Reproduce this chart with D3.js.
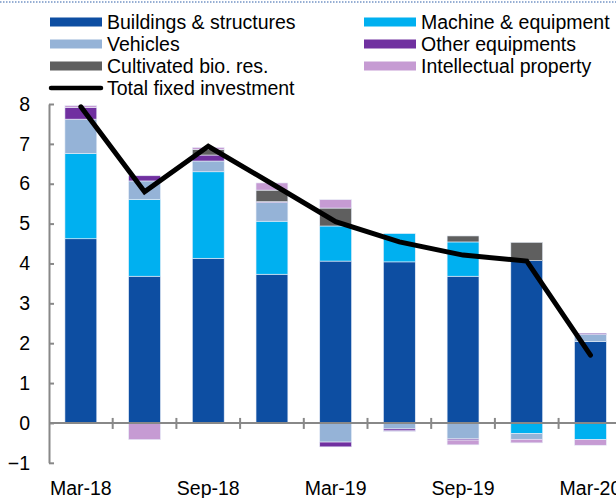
<!DOCTYPE html>
<html>
<head>
<meta charset="utf-8">
<script src="https://cdn.jsdelivr.net/npm/d3@7"></script>
<style>
  html, body { margin: 0; padding: 0; background: #fff; }
  svg { display: block; font-family: "Liberation Sans", Arial, sans-serif; }
</style>
</head>
<body>
<div class="chart-area"></div>
<script>
const svgWidth = 616
const svgHeight = 498
const fontSize = 19.5

// quarters on the x axis
const quarters = ['Mar-18', 'Jun-18', 'Sep-18', 'Dec-18', 'Mar-19', 'Jun-19', 'Sep-19', 'Dec-19', 'Mar-20']
const tickLabels = ['Mar-18', 'Sep-18', 'Mar-19', 'Sep-19', 'Mar-20']

// contributions, percentage points
const buildings    = [4.62, 3.68, 4.13, 3.73, 4.06, 4.04, 3.68, 4.07, 2.04]
const machine      = [2.14, 1.93, 2.17, 1.33, 0.88, 0.71, 0.86, -0.27, -0.42]
const vehicles     = [0.86, 0.46, 0.27, 0.47, -0.48, -0.15, -0.40, -0.14, 0.18]
const otherEquip   = [0.29, 0.13, 0.15, 0.02, -0.12, -0.05, -0.03, 0.00, 0.03]
const cultivated   = [0.00, 0.00, 0.14, 0.29, 0.45, 0.00, 0.15, 0.46, 0.00]
const intellectual = [0.05, -0.42, 0.05, 0.18, 0.21, -0.02, -0.12, -0.09, -0.14]
const totalInvestment = [7.93, 5.80, 6.94, 6.00, 5.05, 4.54, 4.21, 4.06, 1.70]

const yTicks = [-1, 0, 1, 2, 3, 4, 5, 6, 7, 8]

const SERIES = [
  { key: 'buildings', name: 'Buildings & structures', color: '#0d4ea2', values: buildings },
  { key: 'machine', name: 'Machine & equipment', color: '#00b0f0', values: machine },
  { key: 'vehicles', name: 'Vehicles', color: '#95b3d7', values: vehicles },
  { key: 'other', name: 'Other equipments', color: '#7030a0', values: otherEquip },
  { key: 'cultivated', name: 'Cultivated bio. res.', color: '#5f5f5f', values: cultivated },
  { key: 'intellectual', name: 'Intellectual property', color: '#c69bd3', values: intellectual },
]

const rows = quarters.map((q, i) => {
  const row = { quarter: q }
  SERIES.forEach(s => { row[s.key] = s.values[i] })
  return row
})

const svg = d3.select('div.chart-area')
  .append('svg')
  .attr('width', svgWidth)
  .attr('height', svgHeight)

// dotted frame edge of the text box above the chart
svg.append('line')
  .attr('x1', 0).attr('x2', svgWidth)
  .attr('y1', 2).attr('y2', 2)
  .attr('stroke', '#2f5fa8')
  .attr('stroke-width', 1)
  .attr('stroke-dasharray', '1.5,1.5')

const x = d3.scaleBand()
  .domain(quarters)
  .range([49, 622.3])
  .paddingInner(0.5)
  .paddingOuter(0.25)

const y = d3.scaleLinear()
  .domain([-1, 8])
  .range([462.8, 104])

const stack = d3.stack()
  .keys(SERIES.map(s => s.key))
  .offset(d3.stackOffsetDiverging)

const stacked = stack(rows)

svg.append('g')
  .selectAll('g')
  .data(stacked)
  .join('g')
    .attr('fill', (d, i) => SERIES[i].color)
  .selectAll('rect')
  .data(d => d)
  .join('rect')
    .attr('x', d => x(d.data.quarter))
    .attr('width', x.bandwidth())
    .attr('y', d => y(Math.max(d[0], d[1])))
    .attr('height', d => Math.abs(y(d[0]) - y(d[1])))
    .attr('stroke', '#e8eef8')
    .attr('stroke-width', 0.6)

// y axis, ticks pointing inwards
const yAxis = d3.axisLeft(y)
  .tickValues(yTicks)
  .tickSizeInner(-5)
  .tickSizeOuter(0)
  .tickPadding(19)

const yG = svg.append('g')
  .attr('transform', 'translate(49,0)')
  .call(yAxis)
yG.select('.domain').attr('stroke', '#888').attr('stroke-width', 2)
yG.selectAll('.tick line').attr('stroke', '#888').attr('stroke-width', 2)
yG.selectAll('.tick text')
  .attr('font-size', fontSize)
  .attr('fill', '#000')
  .attr('font-family', '"Liberation Sans", Arial, sans-serif')

// zero line with category separators
const step = x.step()
const x0 = x.range()[0]
svg.append('line')
  .attr('x1', x0).attr('x2', x.range()[1])
  .attr('y1', y(0)).attr('y2', y(0))
  .attr('stroke', '#888')
  .attr('stroke-width', 2)

svg.append('g')
  .selectAll('line')
  .data(d3.range(1, quarters.length))
  .join('line')
    .attr('x1', i => x0 + i * step)
    .attr('x2', i => x0 + i * step)
    .attr('y1', y(0) - 5)
    .attr('y2', y(0) + 6)
    .attr('stroke', '#888')
    .attr('stroke-width', 2)

// x labels every second quarter
svg.append('g')
  .selectAll('text')
  .data(tickLabels)
  .join('text')
    .attr('x', d => x(d) + x.bandwidth() / 2)
    .attr('y', 495)
    .attr('text-anchor', 'middle')
    .attr('font-size', fontSize)
    .attr('fill', '#000')
    .text(d => d)

// total line
const line = d3.line()
  .x((d, i) => x(quarters[i]) + x.bandwidth() / 2)
  .y(d => y(d))

svg.append('path')
  .datum(totalInvestment)
  .attr('d', line)
  .attr('fill', 'none')
  .attr('stroke', '#000')
  .attr('stroke-width', 5)
  .attr('stroke-linecap', 'round')

// legend
const legendPos = [
  { x: 50, y: 22 }, { x: 364, y: 22 },
  { x: 50, y: 44 }, { x: 364, y: 44 },
  { x: 50, y: 66 }, { x: 364, y: 66 },
]
const legend = svg.append('g')
SERIES.forEach((s, i) => {
  const p = legendPos[i]
  legend.append('rect')
    .attr('x', p.x).attr('y', p.y - 4.5)
    .attr('width', 52).attr('height', 9)
    .attr('fill', s.color)
  legend.append('text')
    .attr('x', p.x + 57).attr('y', p.y + 7)
    .attr('font-size', fontSize)
    .attr('fill', '#000')
    .text(s.name)
})
legend.append('line')
  .attr('x1', 51).attr('x2', 101)
  .attr('y1', 88).attr('y2', 88)
  .attr('stroke', '#000')
  .attr('stroke-width', 4.5)
  .attr('stroke-linecap', 'round')
legend.append('text')
  .attr('x', 107).attr('y', 95)
  .attr('font-size', fontSize)
  .attr('fill', '#000')
  .text('Total fixed investment')
</script>
</body>
</html>
